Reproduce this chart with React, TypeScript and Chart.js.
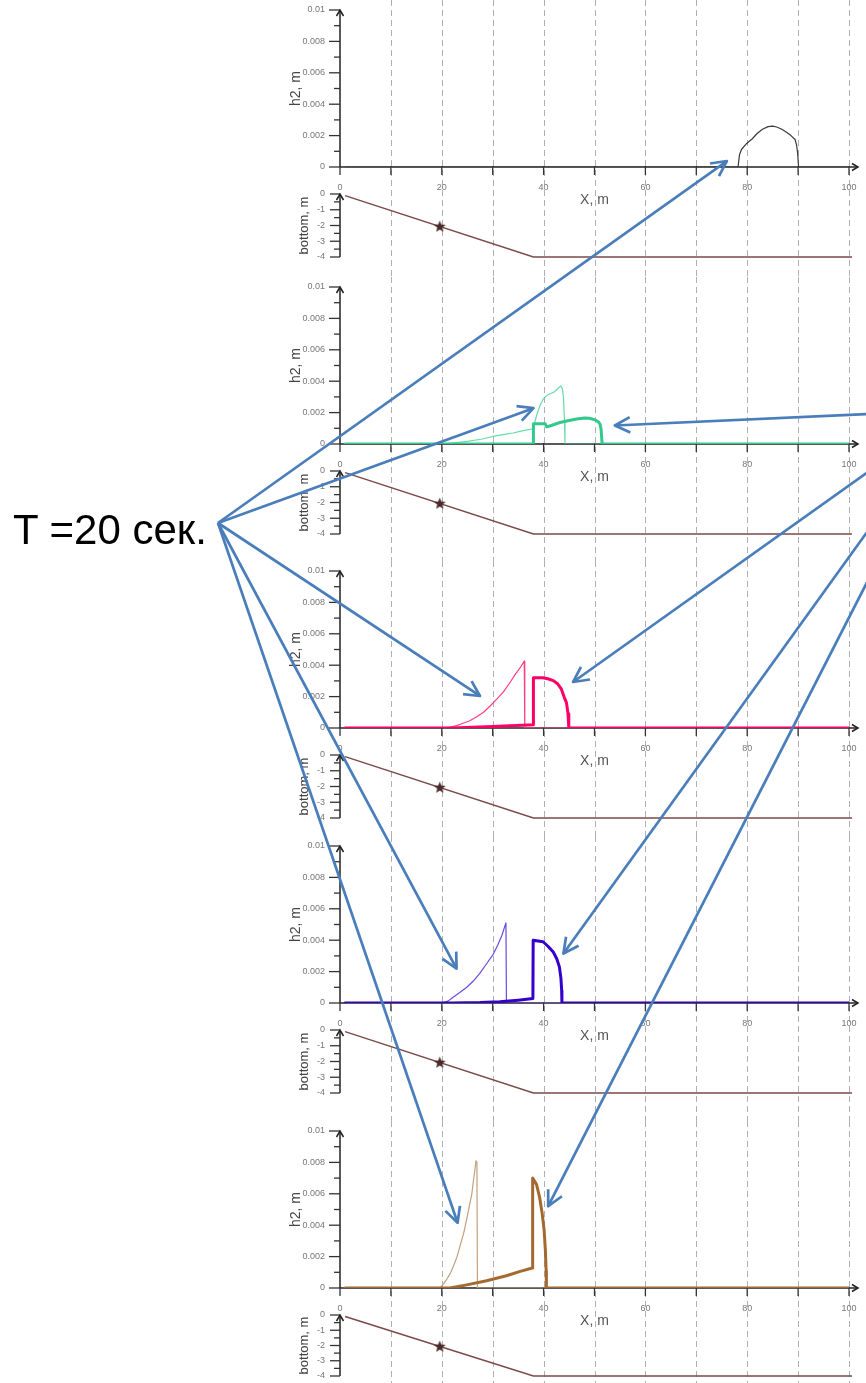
import React, { useEffect, useRef } from "react";
import { Chart, registerables } from "chart.js";
Chart.register(...registerables);

// ---------------- data ----------------
const xTicks = [0, 10, 20, 30, 40, 50, 60, 70, 80, 90, 100];
const xGrid = [10, 20, 30, 40, 50, 60, 70, 80, 90, 100];
const h2Ticks = [0, 0.002, 0.004, 0.006, 0.008, 0.01];
const h2Minor = [0.001, 0.003, 0.005, 0.007, 0.009];
const bottomTicks = [0, -1, -2, -3, -4];
const bottomMinor = [-0.5, -1.5, -2.5, -3.5];

const bottomX = [1, 38, 100.6];
const bottomY = [-0.1, -4, -4];
const starX = [19.6];
const starY = [-2.05];

// panel 1 (single dark line)
const p1ThinX = [1, 78.2, 78.5, 78.9, 79.9, 81.0, 82.0, 83.0, 84.1, 85.0, 85.8, 86.8, 87.8, 88.6, 89.4, 89.7, 89.9, 90.1, 100];
const p1ThinH = [0, 0, 0.0008, 0.00113, 0.0015, 0.0018, 0.00215, 0.0024, 0.00257, 0.0026, 0.00255, 0.0024, 0.0022, 0.002, 0.00175, 0.0014, 0.0009, 0, 0];

// panel 2 (green)
const p2ThinX = [1, 19.7, 22, 25, 28, 30, 32, 34, 36, 37.9, 38.2, 38.6, 39.0, 39.5, 40.0, 40.7, 41.3, 42.0, 42.6, 43.0, 43.4, 43.7, 43.9, 44.1, 44.2, 100];
const p2ThinH = [0, 0, 0.00005, 0.00017, 0.00032, 0.00048, 0.0006, 0.0007, 0.00085, 0.00097, 0.0013, 0.0018, 0.0022, 0.0026, 0.0029, 0.0031, 0.0032, 0.0033, 0.00345, 0.0036, 0.0037, 0.0035, 0.003, 0.0015, 0, 0];
const p2ThickX = [1, 37.95, 38.0, 40.3, 40.6, 41.0, 41.5, 43.2, 45.0, 46.5, 48.0, 49.0, 50.1, 50.8, 51.1, 51.3, 51.5, 100];
const p2ThickH = [0, 0, 0.00129, 0.00129, 0.0011, 0.00113, 0.00118, 0.00137, 0.0015, 0.00159, 0.00165, 0.00164, 0.00154, 0.0014, 0.00125, 0.0009, 0, 0];

// panel 3 (pink)
const p3ThinX = [1, 20.3, 21.5, 22.9, 24.2, 25.5, 26.8, 28.2, 29.5, 30.8, 32.1, 33.4, 34.4, 35.4, 36.2, 36.3, 100];
const p3ThinH = [0, 0, 0.00005, 0.00015, 0.0003, 0.00046, 0.0007, 0.001, 0.0014, 0.00184, 0.0023, 0.0029, 0.0034, 0.00384, 0.00426, 0, 0];
const p3ThickX = [1, 22, 30, 37.95, 38.0, 39.9, 41.0, 42.0, 42.8, 43.5, 44.0, 44.5, 44.8, 44.95, 100];
const p3ThickH = [0, 0, 0.0001, 0.0002, 0.0032, 0.0032, 0.00312, 0.003, 0.0028, 0.00247, 0.002, 0.0016, 0.0009, 0, 0];

// panel 4 (violet)
const p4ThinX = [1, 20.0, 21.2, 22.3, 23.6, 24.9, 26.2, 27.5, 28.8, 30.1, 31.0, 31.8, 32.6, 32.7, 100];
const p4ThinH = [0, 0, 0.00012, 0.00038, 0.00068, 0.001, 0.0014, 0.0019, 0.0025, 0.0031, 0.0037, 0.0043, 0.0051, 0, 0];
const p4ThickX = [1, 22, 27.5, 31.4, 35, 37.9, 37.95, 39.9, 40.9, 41.9, 42.6, 43.1, 43.4, 43.55, 43.6, 100];
const p4ThickH = [0, 0, 0.00003, 0.00008, 0.00018, 0.00028, 0.004, 0.0039, 0.0036, 0.00325, 0.0028, 0.0023, 0.0016, 0.0008, 0, 0];

// panel 5 (brown)
const p5ThinX = [1, 19.65, 20.3, 21.0, 21.7, 22.3, 23.0, 23.6, 24.3, 24.9, 25.4, 25.9, 26.2, 26.5, 26.7, 26.9, 27.0, 100];
const p5ThinH = [0, 0, 0.00025, 0.00057, 0.00095, 0.0014, 0.002, 0.0027, 0.0035, 0.0044, 0.0052, 0.006, 0.0068, 0.0075, 0.0081, 0.008, 0, 0];
const p5ThickX = [1, 21.6, 24.9, 28.8, 32.7, 35.4, 37.8, 37.85, 38.6, 39.2, 39.7, 40.1, 40.35, 40.5, 40.55, 100];
const p5ThickH = [0, 0, 0.0002, 0.00046, 0.00078, 0.00106, 0.00127, 0.007, 0.0066, 0.0058, 0.0048, 0.0037, 0.0024, 0.0011, 0, 0];

// arrow targets (data coordinates in the h2 plots)
const leftArrowPanel = [0, 1, 2, 3, 4];
const leftArrowX = [76.0, 38.0, 27.5, 22.9, 23.1];
const leftArrowH = [0.00038, 0.00228, 0.00204, 0.00219, 0.00416];
const rightArrowPanel = [1, 2, 3, 4];
const rightArrowX = [54.0, 45.8, 43.9, 40.9];
const rightArrowH = [0.00118, 0.00293, 0.00315, 0.00521];

// ---------------- styles / layout ----------------
const FONT = "'Liberation Sans', Arial, sans-serif";
const PAGE_W = 866;
const PAGE_H = 1383;
const panelTops = [10, 287, 571, 846, 1131];
const leftOrigin = { x: 218, y: 523 };
const rightOrigin = { x: 955, y: 410 };

type Panel = {
  thinX: number[]; thinH: number[]; thinColor: string;
  thickX?: number[]; thickH?: number[]; thickColor?: string;
};
const panels: Panel[] = [
  { thinX: p1ThinX, thinH: p1ThinH, thinColor: "#3a3a3a" },
  { thinX: p2ThinX, thinH: p2ThinH, thinColor: "rgba(52,204,140,0.75)", thickX: p2ThickX, thickH: p2ThickH, thickColor: "#34c98c" },
  { thinX: p3ThinX, thinH: p3ThinH, thinColor: "#ff3d84", thickX: p3ThickX, thickH: p3ThickH, thickColor: "#ff0066" },
  { thinX: p4ThinX, thinH: p4ThinH, thinColor: "#6a4ae0", thickX: p4ThickX, thickH: p4ThickH, thickColor: "#3300cc" },
  { thinX: p5ThinX, thinH: p5ThinH, thinColor: "#c4a07c", thickX: p5ThickX, thickH: p5ThickH, thickColor: "#a4692f" },
];

const upperTop = panelTops.map((t) => t - 10);
const upperH = panelTops.map((t, i) => (i < panelTops.length - 1 ? panelTops[i + 1] - t : PAGE_H - (t - 10)));
const lowerTop = panelTops.map((t) => t + 172);
const lowerH = lowerTop.map((t) => Math.min(90, PAGE_H - t));

const zip = (xs: number[], ys: number[]) => xs.map((x, i) => ({ x, y: ys[i] }));

function line(ctx: CanvasRenderingContext2D, x1: number, y1: number, x2: number, y2: number) {
  ctx.beginPath();
  ctx.moveTo(x1, y1);
  ctx.lineTo(x2, y2);
  ctx.stroke();
}

const zeroPad = (s: any) => {
  s.paddingLeft = 0; s.paddingRight = 0; s.paddingTop = 0; s.paddingBottom = 0;
};

const upperAxes = {
  id: "upperAxes",
  beforeDatasetsDraw(chart: any) {
    const { ctx, chartArea: a, scales } = chart;
    const x = scales.x, y = scales.y;
    const H = chart.height;
    ctx.save();
    ctx.strokeStyle = "rgba(150,150,150,0.75)";
    ctx.lineWidth = 1;
    ctx.setLineDash([6, 4]);
    for (const v of xGrid) {
      const px = Math.round(x.getPixelForValue(v)) + 0.5;
      line(ctx, px, 0, px, H);
    }
    ctx.setLineDash([]);
    const y0 = y.getPixelForValue(0);
    const xl = a.left;
    ctx.strokeStyle = "#222";
    ctx.lineWidth = 1.5;
    line(ctx, xl, y0, 858, y0);
    ctx.beginPath();
    ctx.moveTo(852, y0 - 3.5); ctx.lineTo(858, y0); ctx.lineTo(852, y0 + 3.5);
    ctx.stroke();
    line(ctx, xl, y0, xl, a.top);
    ctx.beginPath();
    ctx.moveTo(xl - 3.5, a.top + 6); ctx.lineTo(xl, a.top); ctx.lineTo(xl + 3.5, a.top + 6);
    ctx.stroke();
    ctx.lineWidth = 1.3;
    ctx.strokeStyle = "#333";
    for (const v of xTicks) {
      const px = x.getPixelForValue(v);
      line(ctx, px, y0 - 1, px, y0 + 8);
    }
    for (const v of h2Ticks) {
      const py = y.getPixelForValue(v);
      line(ctx, xl - 11, py, xl, py);
    }
    for (const v of h2Minor) {
      const py = y.getPixelForValue(v);
      line(ctx, xl - 6, py, xl, py);
    }
    ctx.restore();
  },
};

const lowerAxes = {
  id: "lowerAxes",
  beforeDatasetsDraw(chart: any) {
    const { ctx, chartArea: a, scales } = chart;
    const y = scales.y;
    const xl = a.left;
    const yTop = y.getPixelForValue(0);
    const yBot = y.getPixelForValue(-4);
    ctx.save();
    ctx.strokeStyle = "#222";
    ctx.lineWidth = 1.5;
    line(ctx, xl, yBot, xl, yTop);
    ctx.beginPath();
    ctx.moveTo(xl - 3.5, yTop + 6); ctx.lineTo(xl, yTop); ctx.lineTo(xl + 3.5, yTop + 6);
    ctx.stroke();
    ctx.lineWidth = 1.3;
    ctx.strokeStyle = "#333";
    for (const v of bottomTicks) {
      const py = y.getPixelForValue(v);
      line(ctx, xl - 10, py, xl, py);
    }
    for (const v of bottomMinor) {
      const py = y.getPixelForValue(v);
      line(ctx, xl - 6, py, xl, py);
    }
    ctx.restore();
  },
};

function makeStar(): HTMLCanvasElement {
  const c = document.createElement("canvas");
  c.width = 13; c.height = 13;
  const g = c.getContext("2d")!;
  g.fillStyle = "#4a2a2a";
  g.beginPath();
  for (let i = 0; i < 10; i++) {
    const r = i % 2 === 0 ? 6.2 : 2.7;
    const ang = -Math.PI / 2 + (i * Math.PI) / 5;
    const px = 6.5 + r * Math.cos(ang);
    const py = 7 + r * Math.sin(ang);
    if (i === 0) g.moveTo(px, py); else g.lineTo(px, py);
  }
  g.closePath();
  g.fill();
  return c;
}

function makeUpper(canvas: HTMLCanvasElement, H: number, p: Panel) {
  const datasets: any[] = [];
  if (p.thickX && p.thickH) {
    datasets.push({
      data: zip(p.thickX, p.thickH), borderColor: p.thickColor, borderWidth: 3,
      order: 0, pointRadius: 0, borderJoinStyle: "round", borderCapStyle: "round", tension: 0,
    });
  }
  datasets.push({
    data: zip(p.thinX, p.thinH), borderColor: p.thinColor, borderWidth: 1.2,
    order: 1, pointRadius: 0, borderJoinStyle: "round", tension: 0,
  });
  return new Chart(canvas, {
    type: "line",
    data: { datasets },
    options: {
      animation: false,
      responsive: false,
      events: [],
      layout: { padding: { left: 284, right: 17, top: 10, bottom: H - 167 - 45 } },
      plugins: { legend: { display: false }, tooltip: { enabled: false } },
      scales: {
        x: {
          type: "linear", min: 0, max: 100,
          afterBuildTicks: (s: any) => { s.ticks = xTicks.map((v) => ({ value: v })); },
          afterFit: (s: any) => { s.height = 45; zeroPad(s); },
          grid: { display: false, drawTicks: false },
          border: { display: false },
          ticks: {
            padding: 15, autoSkip: false, maxRotation: 0, color: "#777",
            font: { size: 9, family: FONT },
            callback: (v: any) => (Number(v) % 20 === 0 ? String(v) : ""),
          },
          title: { display: true, text: "X, m", color: "#555", font: { size: 14, family: FONT }, padding: { top: 0, bottom: 3 } },
        },
        y: {
          type: "linear", min: 0, max: 0.01,
          afterBuildTicks: (s: any) => { s.ticks = h2Ticks.map((v) => ({ value: v })); },
          afterFit: (s: any) => { s.width = 56; zeroPad(s); },
          grid: { display: false, drawTicks: false },
          border: { display: false },
          ticks: {
            padding: 15, color: "#777", font: { size: 9, family: FONT },
            callback: (v: any) => String(+Number(v).toFixed(3)),
          },
          title: { display: true, text: "h2, m", color: "#444", font: { size: 14, family: FONT }, padding: { top: 4, bottom: 0 } },
        },
      },
    } as any,
    plugins: [upperAxes],
  });
}

function makeLower(canvas: HTMLCanvasElement, H: number, star: HTMLCanvasElement) {
  return new Chart(canvas, {
    type: "line",
    data: {
      datasets: [
        { data: zip(starX, starY), showLine: false, pointStyle: star, pointRadius: 6, order: 0, clip: false },
        { data: zip(bottomX, bottomY), borderColor: "#7b4a47", borderWidth: 1.4, pointRadius: 0, order: 1, tension: 0, clip: false },
      ],
    } as any,
    options: {
      animation: false,
      responsive: false,
      events: [],
      layout: { padding: { left: 293, right: 17, top: 12, bottom: H - 75 } },
      plugins: { legend: { display: false }, tooltip: { enabled: false } },
      scales: {
        x: { type: "linear", min: 0, max: 100, display: false, afterFit: zeroPad },
        y: {
          type: "linear", min: -4, max: 0,
          afterBuildTicks: (s: any) => { s.ticks = bottomTicks.map((v) => ({ value: v })); },
          afterFit: (s: any) => { s.width = 47; zeroPad(s); },
          grid: { display: false, drawTicks: false },
          border: { display: false },
          ticks: { padding: 15, color: "#777", font: { size: 9, family: FONT }, callback: (v: any) => String(v) },
          title: { display: true, text: "bottom, m", color: "#444", font: { size: 13, family: FONT }, padding: { top: 4, bottom: 0 } },
        },
      },
    } as any,
    plugins: [lowerAxes],
  });
}

function drawArrow(ctx: CanvasRenderingContext2D, fx: number, fy: number, tx: number, ty: number) {
  line(ctx, fx, fy, tx, ty);
  const ang = Math.atan2(fy - ty, fx - tx);
  const L = 17;
  const A = (27 * Math.PI) / 180;
  ctx.beginPath();
  ctx.moveTo(tx + L * Math.cos(ang + A), ty + L * Math.sin(ang + A));
  ctx.lineTo(tx, ty);
  ctx.lineTo(tx + L * Math.cos(ang - A), ty + L * Math.sin(ang - A));
  ctx.stroke();
}

export default function App() {
  const upperRefs = useRef<(HTMLCanvasElement | null)[]>([]);
  const lowerRefs = useRef<(HTMLCanvasElement | null)[]>([]);
  const overlayRef = useRef<HTMLCanvasElement | null>(null);

  useEffect(() => {
    const star = makeStar();
    const uppers: Chart[] = [];
    const lowers: Chart[] = [];
    panels.forEach((p, i) => {
      uppers.push(makeUpper(upperRefs.current[i]!, upperH[i], p));
      lowers.push(makeLower(lowerRefs.current[i]!, lowerH[i], star));
    });
    const ov = overlayRef.current!;
    const ctx = ov.getContext("2d")!;
    ctx.clearRect(0, 0, PAGE_W, PAGE_H);
    ctx.strokeStyle = "#4a7ebb";
    ctx.lineWidth = 2.7;
    ctx.lineJoin = "round";
    const toPage = (pi: number, xv: number, hv: number) => {
      const c: any = uppers[pi];
      return { x: c.scales.x.getPixelForValue(xv), y: upperTop[pi] + c.scales.y.getPixelForValue(hv) };
    };
    leftArrowPanel.forEach((pi, k) => {
      const t = toPage(pi, leftArrowX[k], leftArrowH[k]);
      drawArrow(ctx, leftOrigin.x, leftOrigin.y, t.x, t.y);
    });
    rightArrowPanel.forEach((pi, k) => {
      const t = toPage(pi, rightArrowX[k], rightArrowH[k]);
      drawArrow(ctx, rightOrigin.x, rightOrigin.y, t.x, t.y);
    });
    return () => {
      uppers.forEach((c) => c.destroy());
      lowers.forEach((c) => c.destroy());
    };
  }, []);

  return (
    <div style={{ position: "absolute", left: 0, top: 0, width: PAGE_W, height: PAGE_H, overflow: "hidden", background: "#fff" }}>
      {panels.map((_, i) => (
        <canvas
          key={"u" + i}
          ref={(el) => { upperRefs.current[i] = el; }}
          width={PAGE_W}
          height={upperH[i]}
          style={{ position: "absolute", left: 0, top: upperTop[i], width: PAGE_W, height: upperH[i] }}
        />
      ))}
      {panels.map((_, i) => (
        <canvas
          key={"l" + i}
          ref={(el) => { lowerRefs.current[i] = el; }}
          width={PAGE_W}
          height={lowerH[i]}
          style={{ position: "absolute", left: 0, top: lowerTop[i], width: PAGE_W, height: lowerH[i] }}
        />
      ))}
      <div
        style={{
          position: "absolute", left: 13, top: 509, fontFamily: FONT, fontSize: 42,
          lineHeight: "42px", color: "#000", whiteSpace: "nowrap",
        }}
      >
        T =20 сек.
      </div>
      <canvas
        ref={overlayRef}
        width={PAGE_W}
        height={PAGE_H}
        style={{ position: "absolute", left: 0, top: 0, width: PAGE_W, height: PAGE_H, pointerEvents: "none" }}
      />
    </div>
  );
}
